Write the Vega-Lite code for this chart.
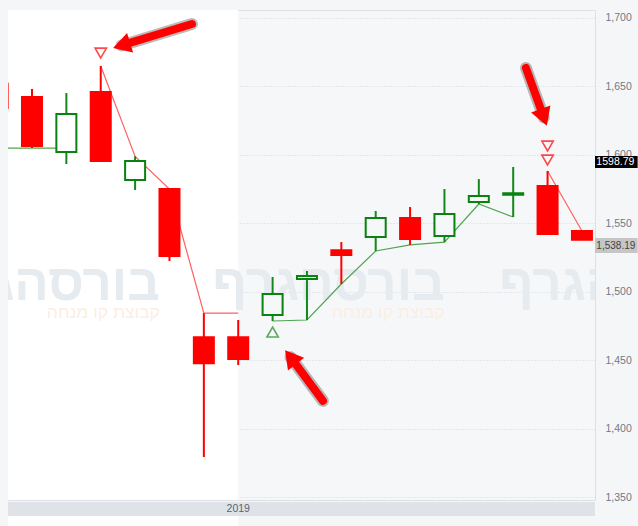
{
  "$schema": "https://vega.github.io/schema/vega-lite/v6.json",
  "width": 587,
  "height": 490,
  "autosize": {"type": "none"},
  "padding": {"left": 8, "top": 10, "right": 43, "bottom": 26},
  "background": "#f5f6f8",
  "config": {
    "view": {"fill": "#f6f7f9", "stroke": "#dde1e6", "strokeWidth": 1},
    "font": "Liberation Sans",
    "scale": {"continuousPadding": 0},
    "axisY": {"grid": true, "gridColor": "#d3d7dc", "gridDash": [1, 2], "gridWidth": 1, "ticks": false, "domain": false, "labelPadding": 10, "labelAlign": "left", "labelColor": "#6d7a88", "labelFontSize": 10.5, "labelFont": "Liberation Sans", "tickCount": 7, "format": ",.0f"}
  },
  "datasets": {
    "candles": [
      {"i": 0, "open": 1652, "high": 1655, "low": 1628, "close": 1634.3},
      {"i": 1, "open": 1642.3, "high": 1648.2, "low": 1605.1, "close": 1606.5},
      {"i": 2, "open": 1602.2, "high": 1645.2, "low": 1593.4, "close": 1629.9},
      {"i": 3, "open": 1646, "high": 1665, "low": 1595.5, "close": 1595.6},
      {"i": 4, "open": 1581.7, "high": 1599, "low": 1574.4, "close": 1595.6},
      {"i": 5, "open": 1575.1, "high": 1575.5, "low": 1522.6, "close": 1526.2},
      {"i": 6, "open": 1467, "high": 1484.5, "low": 1379.5, "close": 1448},
      {"i": 7, "open": 1467, "high": 1479.5, "low": 1446.6, "close": 1451},
      {"i": 8, "open": 1483.2, "high": 1510.9, "low": 1478.8, "close": 1498.5},
      {"i": 9, "open": 1509.4, "high": 1515.3, "low": 1479.5, "close": 1511.6},
      {"i": 10, "open": 1530.5, "high": 1536.4, "low": 1505.8, "close": 1527},
      {"i": 11, "open": 1540.1, "high": 1559.1, "low": 1529.9, "close": 1554},
      {"i": 12, "open": 1554, "high": 1562, "low": 1534.3, "close": 1538.6},
      {"i": 13, "open": 1540.8, "high": 1575.1, "low": 1536.4, "close": 1556.9},
      {"i": 14, "open": 1565.7, "high": 1582.4, "low": 1564.2, "close": 1570},
      {"i": 15, "open": 1571, "high": 1591.2, "low": 1554.7, "close": 1572},
      {"i": 16, "open": 1577.3, "high": 1588.3, "low": 1542.3, "close": 1542.3},
      {"i": 17, "open": 1544.5, "high": 1544.5, "low": 1538.19, "close": 1538.19}
    ],
    "stops": [
      {"seg": "A", "dir": "down", "i": 3, "v": 1665},
      {"seg": "A", "dir": "down", "i": 4, "v": 1599},
      {"seg": "A", "dir": "down", "i": 5, "v": 1575.1},
      {"seg": "A", "dir": "down", "i": 6, "v": 1484.5},
      {"seg": "A", "dir": "down", "i": 7, "v": 1484.5},
      {"seg": "B", "dir": "down", "i": 16, "v": 1588.3},
      {"seg": "B", "dir": "down", "i": 17, "v": 1544.5},
      {"seg": "C", "dir": "up", "i": 0, "v": 1605},
      {"seg": "C", "dir": "up", "i": 1, "v": 1605},
      {"seg": "C", "dir": "up", "i": 2, "v": 1605},
      {"seg": "D", "dir": "up", "i": 8, "v": 1478.8},
      {"seg": "D", "dir": "up", "i": 9, "v": 1479.5},
      {"seg": "D", "dir": "up", "i": 10, "v": 1505.8},
      {"seg": "D", "dir": "up", "i": 11, "v": 1529.9},
      {"seg": "D", "dir": "up", "i": 12, "v": 1534.3},
      {"seg": "D", "dir": "up", "i": 13, "v": 1536.4},
      {"seg": "D", "dir": "up", "i": 14, "v": 1564.2},
      {"seg": "D", "dir": "up", "i": 15, "v": 1554.7}
    ],
    "signals": [
      {"i": 3, "v": 1674.4, "dir": "sell"},
      {"i": 16, "v": 1606.5, "dir": "sell"},
      {"i": 16, "v": 1596.3, "dir": "sell"},
      {"i": 8, "v": 1470.7, "dir": "buy"}
    ],
    "arrows": [
      {"ti": 5.655, "tv": 1695.6, "hi": 3.607, "hv": 1680.0, "angle": 253},
      {"ti": 15.371, "tv": 1663.5, "hi": 15.89, "hv": 1627.4, "angle": 160},
      {"ti": 9.465, "tv": 1420.5, "hi": 8.523, "hv": 1452.4, "angle": 322}
    ],
    "marks": [
      {"name": "main", "ri": 4.72},
      {"name": "main", "ri": 13.01},
      {"name": "main", "ri": 21.35}
    ],
    "tags": [
      {"label": "1598.79", "v": 1594.9, "top": 1599.2, "bottom": 1590.5, "kind": "last"},
      {"label": "1,538.19", "v": 1533.9, "top": 1539.4, "bottom": 1528.4, "kind": "close"}
    ]
  },
  "layer": [
    {
      "data": {"values": [{"from": -1, "to": 7}]},
      "mark": {"type": "rect", "fill": "#ffffff", "clip": true},
      "encoding": {
        "x": {"field": "from", "type": "quantitative", "scale": {"domain": [0.302, 17.38], "nice": false, "zero": false, "padding": 0}, "axis": null},
        "x2": {"field": "to"},
        "y": {"datum": 1300, "type": "quantitative", "scale": {"domain": [1348.1, 1705.84], "nice": false, "zero": false}, "axis": {"orient": "right"}, "title": null},
        "y2": {"datum": 1750}
      }
    },
    {
      "data": {"values": [{"from": 0.302, "to": 7}]},
      "mark": {"type": "rect", "fill": "#ffffff", "clip": false},
      "encoding": {
        "x": {"field": "from", "type": "quantitative", "scale": {"domain": [0.302, 17.38], "nice": false, "zero": false, "padding": 0}, "axis": null},
        "x2": {"field": "to"},
        "y": {"datum": 1336.4, "type": "quantitative", "scale": {"domain": [1348.1, 1705.84], "nice": false, "zero": false}, "axis": {"orient": "right"}, "title": null},
        "y2": {"datum": 1328.9}
      }
    },
    {
      "data": {"values": [{"from": 0.302, "to": 17.38}]},
      "mark": {"type": "rect", "fill": "#dfe3e8", "clip": false},
      "encoding": {
        "x": {"field": "from", "type": "quantitative", "scale": {"domain": [0.302, 17.38], "nice": false, "zero": false, "padding": 0}, "axis": null},
        "x2": {"field": "to"},
        "y": {"datum": 1346.6, "type": "quantitative", "scale": {"domain": [1348.1, 1705.84], "nice": false, "zero": false}, "axis": {"orient": "right"}, "title": null},
        "y2": {"datum": 1336.4}
      }
    },
    {
      "data": {"values": [{"year": "2019", "i": 7}]},
      "mark": {"type": "text", "align": "center", "baseline": "middle", "fontSize": 10.5, "fill": "#5a6470", "clip": false},
      "encoding": {
        "x": {"field": "i", "type": "quantitative", "scale": {"domain": [0.302, 17.38], "nice": false, "zero": false, "padding": 0}, "axis": null},
        "y": {"datum": 1341.3, "type": "quantitative", "scale": {"domain": [1348.1, 1705.84], "nice": false, "zero": false}, "axis": {"orient": "right"}, "title": null},
        "text": {"field": "year"}
      }
    },
    {
      "data": {"name": "marks"},
      "mark": {"type": "text", "text": "בורסהגרף", "align": "right", "baseline": "alphabetic", "font": "Liberation Sans", "fontWeight": "bold", "fontSize": 51, "fill": "#e6ebef", "clip": true},
      "encoding": {
        "x": {"field": "ri", "type": "quantitative", "scale": {"domain": [0.302, 17.38], "nice": false, "zero": false, "padding": 0}, "axis": null},
        "y": {"datum": 1494.1, "type": "quantitative", "scale": {"domain": [1348.1, 1705.84], "nice": false, "zero": false}, "axis": {"orient": "right"}, "title": null}
      }
    },
    {
      "data": {"name": "marks"},
      "mark": {"type": "text", "text": "קבוצת קו מנחה", "align": "right", "baseline": "alphabetic", "font": "Liberation Sans", "fontSize": 17.5, "fill": "#fbeee2", "clip": true},
      "encoding": {
        "x": {"field": "ri", "type": "quantitative", "scale": {"domain": [0.302, 17.38], "nice": false, "zero": false, "padding": 0}, "axis": null},
        "y": {"datum": 1481, "type": "quantitative", "scale": {"domain": [1348.1, 1705.84], "nice": false, "zero": false}, "axis": {"orient": "right"}, "title": null}
      }
    },
    {
      "mark": {"type": "rule", "stroke": "#e39a5c", "strokeWidth": 1, "clip": true},
      "encoding": {
        "y": {"datum": 1538.19, "type": "quantitative", "scale": {"domain": [1348.1, 1705.84], "nice": false, "zero": false}, "axis": {"orient": "right"}, "title": null}
      }
    },
    {
      "data": {"name": "stops"},
      "mark": {"type": "line", "strokeWidth": 1.2, "clip": true},
      "encoding": {
        "x": {"field": "i", "type": "quantitative", "scale": {"domain": [0.302, 17.38], "nice": false, "zero": false, "padding": 0}, "axis": null},
        "y": {"field": "v", "type": "quantitative", "scale": {"domain": [1348.1, 1705.84], "nice": false, "zero": false}, "axis": {"orient": "right"}, "title": null},
        "detail": {"field": "seg"},
        "color": {"field": "dir", "type": "nominal", "scale": {"domain": ["down", "up"], "range": ["#ff6060", "#4fa64f"]}, "legend": null}
      }
    },
    {
      "data": {"name": "candles"},
      "mark": {"type": "rule", "strokeWidth": 2, "clip": true},
      "encoding": {
        "x": {"field": "i", "type": "quantitative", "scale": {"domain": [0.302, 17.38], "nice": false, "zero": false, "padding": 0}, "axis": null},
        "y": {"field": "low", "type": "quantitative", "scale": {"domain": [1348.1, 1705.84], "nice": false, "zero": false}, "axis": {"orient": "right"}, "title": null},
        "y2": {"field": "high"},
        "stroke": {"condition": {"test": "datum.close < datum.open", "value": "#ff0000"}, "value": "#12881a"}
      }
    },
    {
      "data": {"name": "candles"},
      "mark": {"type": "bar", "size": 20, "strokeWidth": 2, "clip": true},
      "encoding": {
        "x": {"field": "i", "type": "quantitative", "scale": {"domain": [0.302, 17.38], "nice": false, "zero": false, "padding": 0}, "axis": null},
        "y": {"field": "open", "type": "quantitative", "scale": {"domain": [1348.1, 1705.84], "nice": false, "zero": false}, "axis": {"orient": "right"}, "title": null},
        "y2": {"field": "close"},
        "fill": {"condition": [{"test": "datum.close < datum.open", "value": "#ff0000"}, {"test": "datum.i < 7", "value": "#ffffff"}], "value": "#f6f7f9"},
        "stroke": {"condition": {"test": "datum.close < datum.open", "value": "#ff0000"}, "value": "#0a820f"}
      }
    },
    {
      "data": {"name": "signals"},
      "mark": {"type": "point", "filled": false, "strokeWidth": 1.6, "size": 130, "clip": true},
      "encoding": {
        "x": {"field": "i", "type": "quantitative", "scale": {"domain": [0.302, 17.38], "nice": false, "zero": false, "padding": 0}, "axis": null},
        "y": {"field": "v", "type": "quantitative", "scale": {"domain": [1348.1, 1705.84], "nice": false, "zero": false}, "axis": {"orient": "right"}, "title": null},
        "shape": {"field": "dir", "type": "nominal", "scale": {"domain": ["sell", "buy"], "range": ["triangle-down", "triangle-up"]}, "legend": null},
        "stroke": {"condition": {"test": "datum.dir == 'sell'", "value": "#ff0000"}, "value": "#1a8a1a"}
      }
    },
    {
      "mark": {"type": "point", "filled": true, "size": 55, "fill": "#1b4a70", "opacity": 1, "clip": true},
      "encoding": {
        "x": {"datum": 17, "type": "quantitative", "scale": {"domain": [0.302, 17.38], "nice": false, "zero": false, "padding": 0}, "axis": null},
        "y": {"datum": 1538.19, "type": "quantitative", "scale": {"domain": [1348.1, 1705.84], "nice": false, "zero": false}, "axis": {"orient": "right"}, "title": null}
      }
    },
    {
      "data": {"name": "arrows"},
      "mark": {"type": "rule", "stroke": "#222222", "strokeWidth": 12, "strokeCap": "round", "opacity": 0.3, "clip": true},
      "encoding": {
        "x": {"field": "ti", "type": "quantitative", "scale": {"domain": [0.302, 17.38], "nice": false, "zero": false, "padding": 0}, "axis": null},
        "y": {"field": "tv", "type": "quantitative", "scale": {"domain": [1348.1, 1705.84], "nice": false, "zero": false}, "axis": {"orient": "right"}, "title": null},
        "x2": {"field": "hi"},
        "y2": {"field": "hv"}
      }
    },
    {
      "data": {"name": "arrows"},
      "mark": {"type": "rule", "stroke": "#ff0000", "strokeWidth": 8, "strokeCap": "round", "clip": true},
      "encoding": {
        "x": {"field": "ti", "type": "quantitative", "scale": {"domain": [0.302, 17.38], "nice": false, "zero": false, "padding": 0}, "axis": null},
        "y": {"field": "tv", "type": "quantitative", "scale": {"domain": [1348.1, 1705.84], "nice": false, "zero": false}, "axis": {"orient": "right"}, "title": null},
        "x2": {"field": "hi"},
        "y2": {"field": "hv"}
      }
    },
    {
      "data": {"name": "arrows"},
      "mark": {"type": "point", "shape": "triangle-up", "filled": true, "fill": "#ff0000", "size": 420, "opacity": 1, "clip": true},
      "encoding": {
        "x": {"field": "hi", "type": "quantitative", "scale": {"domain": [0.302, 17.38], "nice": false, "zero": false, "padding": 0}, "axis": null},
        "y": {"field": "hv", "type": "quantitative", "scale": {"domain": [1348.1, 1705.84], "nice": false, "zero": false}, "axis": {"orient": "right"}, "title": null},
        "angle": {"field": "angle", "type": "quantitative", "scale": null}
      }
    },
    {
      "data": {"name": "tags"},
      "mark": {"type": "rect", "clip": false},
      "encoding": {
        "x": {"datum": 17.38, "type": "quantitative", "scale": {"domain": [0.302, 17.38], "nice": false, "zero": false, "padding": 0}, "axis": null},
        "x2": {"datum": 18.62},
        "y": {"field": "top", "type": "quantitative", "scale": {"domain": [1348.1, 1705.84], "nice": false, "zero": false}, "axis": {"orient": "right"}, "title": null},
        "y2": {"field": "bottom"},
        "fill": {"condition": {"test": "datum.kind == 'last'", "value": "#000000"}, "value": "#c6c6c6"}
      }
    },
    {
      "data": {"name": "tags"},
      "mark": {"type": "text", "align": "left", "baseline": "middle", "clip": false},
      "encoding": {
        "x": {"datum": 17.42, "type": "quantitative", "scale": {"domain": [0.302, 17.38], "nice": false, "zero": false, "padding": 0}, "axis": null},
        "y": {"field": "v", "type": "quantitative", "scale": {"domain": [1348.1, 1705.84], "nice": false, "zero": false}, "axis": {"orient": "right"}, "title": null},
        "text": {"field": "label"},
        "fill": {"condition": {"test": "datum.kind == 'last'", "value": "#ffffff"}, "value": "#444444"},
        "fontWeight": {"condition": {"test": "datum.kind == 'last'", "value": "bold"}, "value": "normal"},
        "size": {"condition": {"test": "datum.kind == 'last'", "value": 10.5}, "value": 10}
      }
    }
  ]
}
